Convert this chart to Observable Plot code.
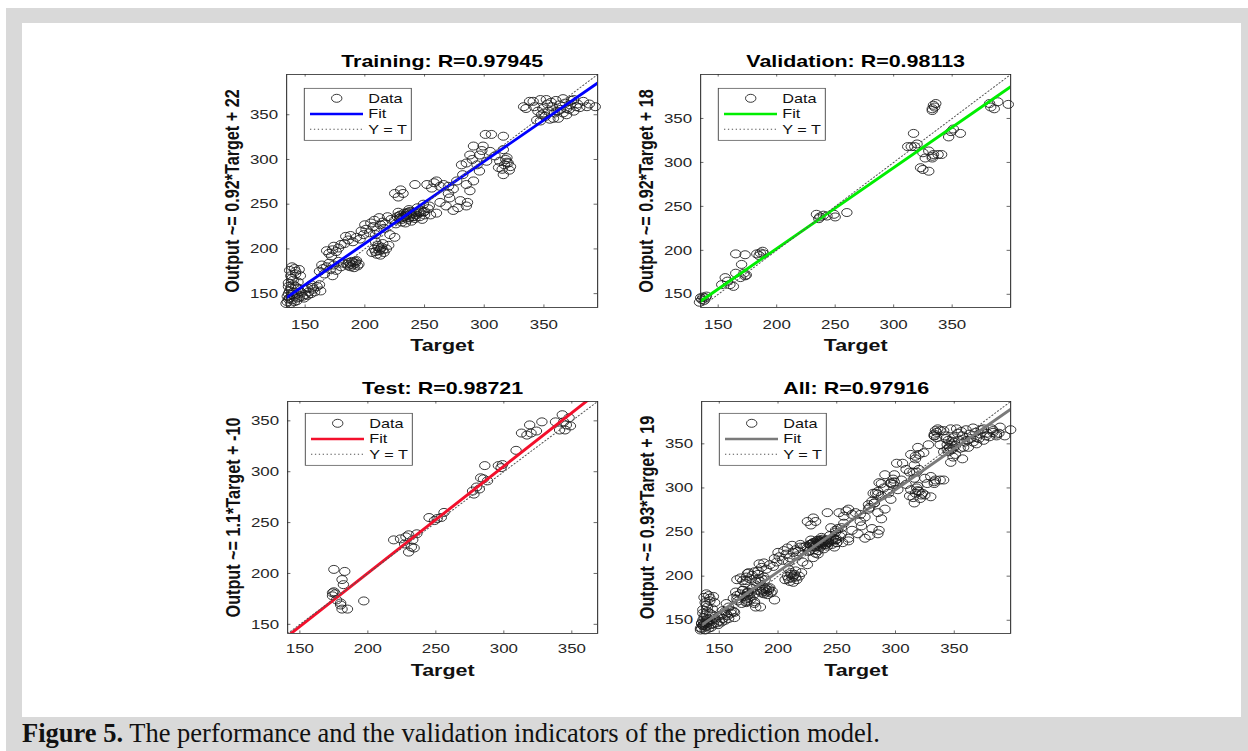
<!DOCTYPE html>
<html>
<head>
<meta charset="utf-8">
<script src="https://cdn.jsdelivr.net/npm/d3@7"></script>
<script src="https://cdn.jsdelivr.net/npm/@observablehq/plot@0.6"></script>
<style>
html,body{margin:0;padding:0;background:#fff;width:1248px;height:751px;overflow:hidden;position:relative;}
#frame{position:absolute;left:6px;top:8px;width:1242px;height:743px;background:#d9d9d9;}
#paper{position:absolute;left:22px;top:23px;width:1219px;height:694px;background:#fff;}
#caption{position:absolute;left:22px;top:718px;line-height:30px;font-family:"Liberation Serif","Times New Roman",serif;font-size:26.5px;color:#111;white-space:nowrap;}
.panel{position:absolute;}
</style>
</head>
<body>
<div id="frame"></div>
<div id="paper"></div>
<div id="caption"><b>Figure 5.</b> The performance and the validation indicators of the prediction model.</div>
<script>
// ---------------- data (Target, Output) ----------------
const trainingPoints = [
[135,141],[137,145],[139,143],[141,147],[136,150],[140,152],[143,149],[145,146],[138,156],[142,158],[136,162],[140,165],[144,163],[138,170],[142,172],[137,176],[141,178],[145,177],[139,180],[146,170],[134,139],[138,139],[143,142],[147,151],[136,144],[144,156],[140,160],
[135,147],[137,153],[139,149],[141,141],[143,145],[136,158],[139,167],[142,175],
[148,147],[150,149],[153,152],[155,150],[152,156],[157,155],[160,158],[158,152],[162,160],[150,155],[155,160],[163,153],[149,145],[146,152],[152,148],[156,157],
[162,175],[165,178],[168,180],[171,177],[174,182],[176,176],[170,184],[178,186],[180,180],[166,172],[173,170],[182,184],[164,182],
[170,195],[173,199],[176,197],[174,203],[178,201],[172,192],[168,198],[180,205],
[183,206],[186,210],[190,208],[193,213],[196,211],[188,215],[199,216],[184,214],
[186,181],[188,183],[190,182],[192,184],[194,181],[189,186],[191,179],[193,187],[187,185],[195,183],[188,180],[192,186],[190,185],[185,183],
[197,220],[201,222],[204,218],[207,225],[210,221],[213,227],[216,223],[200,227],[205,229],[209,216],
[206,196],[208,200],[210,194],[212,198],[214,202],[216,196],[211,204],[209,208],[215,206],[218,200],[213,193],[220,204],[209,197],[213,200],[211,202],[215,199],
[208,232],[212,235],[215,230],[219,236],[222,233],[217,228],
[225,213],[221,216],
[225,232],[227,236],[229,234],[230,238],[232,235],[233,240],[235,237],[236,233],[238,239],[240,236],[241,241],[243,238],[245,240],[247,243],[249,241],[228,241],[231,230],[237,244],[242,234],[234,229],[226,228],[239,231],[244,246],[250,238],
[229,237],[231,233],[233,236],[235,240],[237,235],[239,238],[241,236],[234,238],[236,241],[230,235],[243,241],[238,242],
[225,262],[232,262],[228,258],[230,266],
[242,272],
[246,236],[250,242],[253,245],[255,238],[248,233],
[252,272],[260,276],[266,272],[274,267],[282,283],[277,276],[285,272],[291,276],[256,268],[263,270],[258,274],[270,270],
[254,248],[263,252],[271,257],[280,254],[268,248],[278,246],[285,248],[274,243],[288,265],[260,240],[286,252],[270,262],
[246,241],[249,250],
[291,315],[299,315],[288,305],[296,305],[305,309],[316,311],[285,296],[294,294],[302,298],[281,294],[296,287],[313,298],[317,294],[315,289],[316,283],[319,302],[290,300],[298,310],[320,296],[322,292],[318,300],[321,288],[309,304],[312,291],[319,297],
[301,328],[306,328],[316,326],
[333,359],[338,365],[347,367],[335,357],[349,357],[344,344],[347,343],[358,346],[361,354],[363,361],[369,357],[375,354],[377,359],[383,365],[386,359],[393,359],[366,368],[352,367],[357,359],[354,354],[351,348],[362,346],[369,350],[372,361],[375,367],[342,359],[345,354],[341,365],
[350,352],[353,362],[356,364],[359,352],[360,366],[364,356],[366,352],[368,363],[371,356],[373,366],[378,362],[380,358],[388,362],[348,350],[355,345]
];
const validationPoints = [
[134,141],[136,144],[137,147],[139,146],[138,143],[140,148],[135,146],
[156,169],[160,161],[163,159],[153,161],[158,165],
[165,196],[173,195],
[165,174],[170,184],[172,174],[173,171],[169,169],[174,172],
[183,196],[186,197],[189,196],[185,194],[188,199],
[234,241],[237,238],[240,240],[236,236],[249,241],[250,238],[260,243],[243,239],
[317,333],[315,318],[320,321],[318,318],[312,318],
[334,365],[336,367],[333,361],[335,363],[333,359],
[325,311],[330,313],[334,309],[327,305],[333,305],[338,309],[323,294],[325,292],[330,290],[333,307],
[341,309],
[349,335],[351,338],[347,329],[357,333],
[382,367],[383,363],[389,369],[386,361],[398,366]
];
const testPoints = [
[175,204],[183,202],[181,194],[182,189],[175,182],[176,180],[174,178],[177,174],[180,171],[181,165],[185,165],[180,169],[197,173],[174,181],
[219,233],[224,234],[228,236],[230,238],[227,229],[232,226],[234,225],[230,221],[236,239],[233,233],
[245,255],[249,252],[254,255],[256,260],[251,254],
[277,281],[280,285],[278,278],[282,283],
[286,306],[283,294],[288,291],[285,293],
[296,306],[298,304],[299,307],
[309,321],
[319,346],[313,338],[317,336],[320,338],[324,340],
[328,349],
[338,349],[343,356],[344,349],[341,341],[345,341],[348,353],[349,345],[346,346]
];
const allPoints = trainingPoints.concat(validationPoints, testPoints);

const panelTitles = ["Training: R=0.97945", "Validation: R=0.98113", "Test: R=0.98721", "All: R=0.97916"];
const yLabels = ["Output ~= 0.92*Target + 22", "Output ~= 0.92*Target + 18", "Output ~= 1.1*Target + -10", "Output ~= 0.93*Target + 19"];
const fitSlopes = [0.92, 0.92, 1.05, 0.93];
const fitIntercepts = [22, 18, -9.6, 19];
const fitColors = ["#0000ff", "#00ee00", "#f3102c", "#7a7a7a"];
const axisLimits = [[134.5, 395], [135, 400], [141, 369], [135, 398]];
const tickValues = [150, 200, 250, 300, 350];
const legendLabels = ["Data", "Fit", "Y = T"];
const xLabel = "Target";

// ---------------- drawing ----------------
const S = 1.3; // horizontal stretch of the original figure
const FONT = '"Liberation Sans", Arial, Helvetica, sans-serif';

function panel(i, points, box, tickPad, xlabDy, legendTop) {
  const mL = 92, mR = 14, mT = 46, mB = 56;
  const W = mL + box.w + mR, H = mT + box.h + mB;
  const [lo, hi] = axisLimits[i];
  const a = fitSlopes[i], b = fitIntercepts[i];
  const tl = (hi - lo) * 0.011;
  const tickStyle = {stroke: "#262626", strokeWidth: 0.6};
  const chart = Plot.plot({
    width: W / S, height: H,
    marginLeft: mL / S, marginRight: mR / S, marginTop: mT, marginBottom: mB,
    x: {domain: [lo, hi]}, y: {domain: [lo, hi]},
    style: {fontFamily: FONT, fontSize: "13px", color: "#262626", background: "transparent", overflow: "visible"},
    marks: [
      Plot.dot(points, {x: d => d[0], y: d => d[1], r: 4, stroke: "#1a1a1a", strokeWidth: 0.75, fill: "none"}),
      Plot.line([[lo, a * lo + b], [hi, a * hi + b]], {x: d => d[0], y: d => d[1], stroke: fitColors[i], strokeWidth: 2.6, clip: true}),
      Plot.line([[lo, lo], [hi, hi]], {x: d => d[0], y: d => d[1], stroke: "#555", strokeWidth: 0.9, strokeDasharray: "1,2", clip: true}),
      Plot.ruleX(tickValues, {x: d => d, y1: lo, y2: lo + tl, ...tickStyle}),
      Plot.ruleX(tickValues, {x: d => d, y1: hi, y2: hi - tl, ...tickStyle}),
      Plot.ruleY(tickValues, {y: d => d, x1: lo, x2: lo + tl, ...tickStyle}),
      Plot.ruleY(tickValues, {y: d => d, x1: hi, x2: hi - tl, ...tickStyle}),
      Plot.frame({stroke: "#262626", strokeWidth: 0.8}),
      Plot.axisX({ticks: tickValues, tickSize: 0, tickPadding: tickPad, label: null, fontSize: 13}),
      Plot.axisY({ticks: tickValues, tickSize: 0, tickPadding: 8.5 / S, label: null, fontSize: 13}),
      Plot.text([panelTitles[i]], {text: d => d, frameAnchor: "top", textAnchor: "middle", lineAnchor: "middle", dy: -12.5, fontSize: 16.5, fontWeight: "bold", fill: "#000"}),
      Plot.text([xLabel], {text: d => d, frameAnchor: "bottom", textAnchor: "middle", lineAnchor: "middle", dy: xlabDy, fontSize: 16.5, fontWeight: "bold", fill: "#111"}),
      Plot.text([yLabels[i]], {text: d => d, frameAnchor: "left", textAnchor: "middle", lineAnchor: "middle", dx: -54 / S, rotate: -90, fontSize: 16.2, fontWeight: "bold", fill: "#111"})
    ]
  });
  // legend (drawn in the same stretched coordinate system)
  const g = d3.select(chart).append("g").attr("font-family", FONT).attr("font-size", 12.5).attr("text-anchor", "start");
  const lx = (mL + 18.3) / S, ly = mT + legendTop;
  g.append("rect").attr("x", lx).attr("y", ly).attr("width", 107 / S).attr("height", 52)
    .attr("fill", "#fff").attr("stroke", "#444").attr("stroke-width", 0.7);
  g.append("circle").attr("cx", lx + 32.4 / S).attr("cy", ly + 10).attr("r", 4)
    .attr("fill", "none").attr("stroke", "#1a1a1a").attr("stroke-width", 0.75);
  g.append("line").attr("x1", lx + 5.7 / S).attr("x2", lx + 58.7 / S).attr("y1", ly + 25.7).attr("y2", ly + 25.7)
    .attr("stroke", fitColors[i]).attr("stroke-width", 2.6);
  g.append("line").attr("x1", lx + 5.7 / S).attr("x2", lx + 58.7 / S).attr("y1", ly + 41).attr("y2", ly + 41)
    .attr("stroke", "#555").attr("stroke-width", 0.9).attr("stroke-dasharray", "1,2");
  [10, 25.7, 41].forEach((yy, k) => {
    g.append("text").attr("x", lx + 64 / S).attr("y", ly + yy).attr("dy", "0.35em")
      .attr("text-anchor", "start").attr("fill", "#111").text(legendLabels[k]);
  });

  chart.setAttribute("preserveAspectRatio", "none");
  chart.setAttribute("width", W);
  chart.setAttribute("height", H);
  chart.style.width = W + "px";
  chart.style.height = H + "px";
  chart.style.maxWidth = "none";
  const div = document.createElement("div");
  div.className = "panel";
  div.style.left = (box.L - mL) + "px";
  div.style.top = (box.T - mT) + "px";
  div.appendChild(chart);
  document.body.appendChild(div);
}

panel(0, trainingPoints,   {L: 286,   T: 74,  w: 311, h: 233}, 12.4, 38, 14.3);
panel(1, validationPoints, {L: 699.5, T: 74,  w: 310, h: 233}, 12.4, 38, 14.3);
panel(2, testPoints,       {L: 287,   T: 401, w: 310, h: 232}, 10.7, 37, 12.3);
panel(3, allPoints,        {L: 700.5, T: 401, w: 309, h: 232}, 10.7, 37, 12.3);
</script>
</body>
</html>
